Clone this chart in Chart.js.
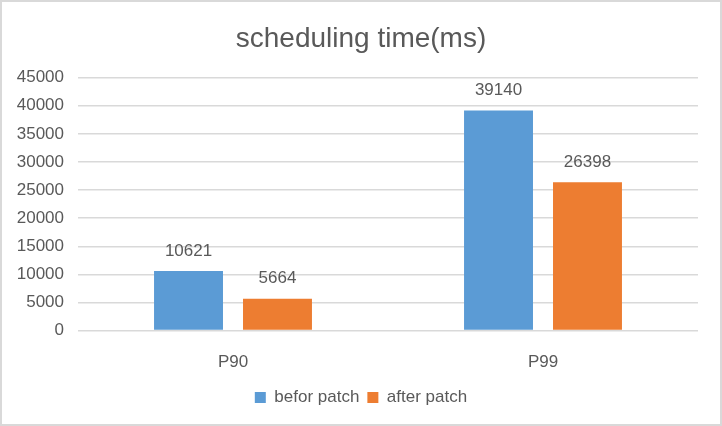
<!DOCTYPE html>
<html>
<head>
<meta charset="utf-8">
<script src="https://cdn.jsdelivr.net/npm/chart.js@4/dist/chart.umd.min.js"></script>
<style>
  html, body { margin: 0; padding: 0; background: #fff; }
  #wrap { width: 722px; height: 426px; box-sizing: border-box; border: 2px solid #d9d9d9; position: relative; }
</style>
</head>
<body>
<div id="wrap"><canvas id="timeChart"></canvas></div>
<script>
// scheduling time data
const categories = ['P90', 'P99'];
const beforPatch = [10621, 39140];
const afterPatch = [5664, 26398];
const yTicks = [0, 5000, 10000, 15000, 20000, 25000, 30000, 35000, 40000, 45000];

const textColor = '#595959';
const fontFamily = '"Liberation Sans", Arial, sans-serif';

// draw the numbers above bars
const valueLabels = {
    id: 'valueLabels',
    afterDatasetsDraw(chart) {
        const ctx = chart.ctx;
        ctx.save();
        ctx.fillStyle = textColor;
        ctx.font = '17px ' + fontFamily;
        ctx.textAlign = 'center';
        ctx.textBaseline = 'middle';
        chart.data.datasets.forEach((ds, i) => {
            chart.getDatasetMeta(i).data.forEach((bar, j) => {
                ctx.fillText(ds.data[j], bar.x, bar.y - 20);
            });
        });
        ctx.restore();
    }
};

const ctx = document.getElementById('timeChart').getContext('2d');
const timeChart = new Chart(ctx, {
    type: 'bar',
    data: {
        labels: categories,
        datasets: [{
            label: 'befor patch',
            data: beforPatch,
            backgroundColor: '#5B9BD5',
            barPercentage: 0.775,
            categoryPercentage: 0.574
        }, {
            label: 'after patch',
            data: afterPatch,
            backgroundColor: '#ED7D31',
            barPercentage: 0.775,
            categoryPercentage: 0.574
        }]
    },
    options: {
        responsive: true,
        maintainAspectRatio: false,
        animation: false,
        layout: {
            padding: { left: 0, right: 0, top: 0, bottom: 8 }
        },
        plugins: {
            title: {
                display: true,
                text: 'scheduling time(ms)',
                color: textColor,
                font: { family: fontFamily, size: 28, weight: 'normal' },
                padding: { top: 20, bottom: 22 }
            },
            legend: {
                position: 'bottom',
                labels: {
                    color: textColor,
                    font: { family: fontFamily, size: 17 },
                    boxWidth: 11,
                    boxHeight: 11,
                    padding: 8
                }
            },
            tooltip: { enabled: false }
        },
        scales: {
            x: {
                grid: { display: false },
                border: { display: false },
                ticks: {
                    color: textColor,
                    font: { family: fontFamily, size: 17 },
                    padding: 14
                },
                afterFit(axis) { axis.height -= 6; }
            },
            y: {
                min: 0,
                max: 45000,
                afterBuildTicks(axis) {
                    axis.ticks = yTicks.map(v => ({ value: v }));
                },
                grid: { color: '#d9d9d9', lineWidth: 1.5, drawTicks: false },
                border: { display: false },
                ticks: {
                    color: textColor,
                    font: { family: fontFamily, size: 17 },
                    padding: 14,
                    callback: v => String(v)
                },
                afterFit(axis) { axis.width = 76; }
            },
            // empty right margin
            yRight: {
                position: 'right',
                grid: { display: false },
                border: { display: false },
                ticks: { display: false },
                afterFit(axis) { axis.width = 22; }
            }
        }
    },
    plugins: [valueLabels]
});
</script>
</body>
</html>
